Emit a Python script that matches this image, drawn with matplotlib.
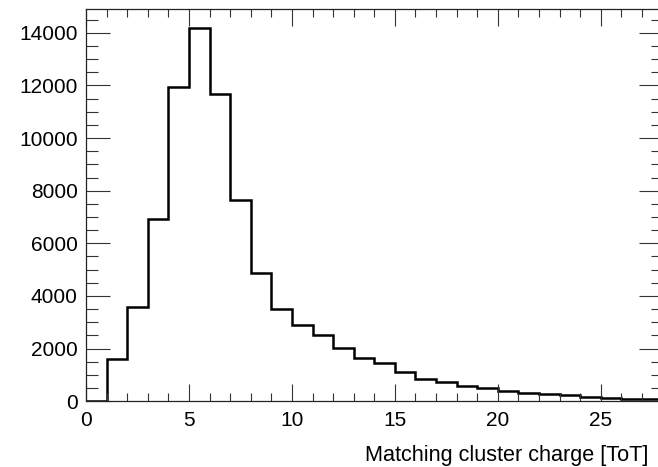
"""Histogram of matching cluster charge in ToT units."""

import matplotlib

matplotlib.use("Agg")
import matplotlib.pyplot as plt
import numpy as np
from matplotlib.ticker import MultipleLocator

# Bin edges and counts of the cluster-charge histogram (1 ToT per bin)
bin_edges = np.arange(0, 29)
counts = [
    0, 1620, 3570, 6910, 11950, 14180, 11660, 7640, 4860, 3520,
    2890, 2520, 2020, 1660, 1440, 1100, 850, 720, 585, 520,
    405, 330, 265, 228, 178, 138, 100, 85,
]
x_label = "Matching cluster charge [ToT]"

plt.rcParams["font.family"] = ["Liberation Sans", "DejaVu Sans"]

fig = plt.figure(figsize=(6.58, 4.67), dpi=100)
# Frame runs slightly past the right edge of the canvas
ax = fig.add_axes([86 / 658, 65.7 / 467, 576.6 / 658, 392 / 467])

ax.stairs(counts, bin_edges, color="black", linewidth=1.8, baseline=0)

ax.set_xlim(0, 28)
ax.set_ylim(0, 1.05 * max(counts))

ax.xaxis.set_major_locator(MultipleLocator(5))
ax.xaxis.set_minor_locator(MultipleLocator(1))
ax.yaxis.set_major_locator(MultipleLocator(2000))
ax.yaxis.set_minor_locator(MultipleLocator(500))

ax.tick_params(axis="both", which="both", direction="in",
               top=True, right=True, labelsize=15, width=0.8,
               color="#333333")
ax.tick_params(axis="x", which="major", length=12, pad=7)
ax.tick_params(axis="x", which="minor", length=6)
ax.tick_params(axis="y", which="major", length=17, pad=6)
ax.tick_params(axis="y", which="minor", length=8.5)

for spine in ax.spines.values():
    spine.set_linewidth(0.9)
    spine.set_color("#222222")

ax.set_xlabel(x_label, fontsize=15.6)
ax.xaxis.set_label_coords((648 - 86) / 576.6, -(461 - 401.3) / 392)
ax.xaxis.label.set_horizontalalignment("right")
ax.xaxis.label.set_verticalalignment("baseline")

fig.savefig("out.png", dpi=100)
